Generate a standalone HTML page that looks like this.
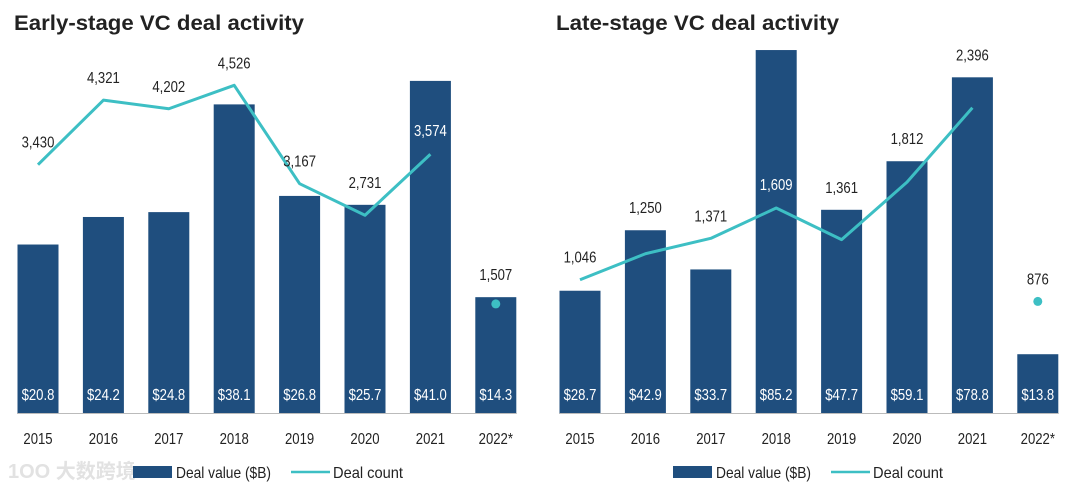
<!DOCTYPE html>
<html><head><meta charset="utf-8">
<style>
body{margin:0;background:#fff;width:1078px;height:493px;overflow:hidden;font-family:"Liberation Sans",sans-serif;}
svg{display:block}
</style></head>
<body>
<svg id="chart" width="1078" height="493" viewBox="0 0 1078 493">
<text x="14" y="30" font-size="21" font-weight="bold" fill="#222" textLength="290" lengthAdjust="spacingAndGlyphs">Early-stage VC deal activity</text>
<text x="556" y="30" font-size="21" font-weight="bold" fill="#222" textLength="283" lengthAdjust="spacingAndGlyphs">Late-stage VC deal activity</text>
<text x="8" y="478" font-size="20" font-weight="bold" fill="#e2e2e2" font-family="'Liberation Sans','Noto Sans CJK SC',sans-serif">1OO 大数跨境</text>
<g id="early"></g>
<g id="late"></g>
</svg>
<script>
const years = ["2015","2016","2017","2018","2019","2020","2021","2022*"];
const earlyValues = [20.8,24.2,24.8,38.1,26.8,25.7,41.0,14.3];
const earlyCounts = [3430,4321,4202,4526,3167,2731,3574,1507];
const lateValues = [28.7,42.9,33.7,85.2,47.7,59.1,78.8,13.8];
const lateCounts = [1046,1250,1371,1609,1361,1812,2396,876];

const NS="http://www.w3.org/2000/svg";
const BAR="#1f4e7e", LINE="#3dbfc4", BASE=413;
function mk(parent,tag,attrs){const e=document.createElementNS(NS,tag);for(const k in attrs)e.setAttribute(k,attrs[k]);parent.appendChild(e);return e;}
function fmt(n){return n.toLocaleString("en-US");}
function condense(t){const w=t.getComputedTextLength();t.setAttribute("textLength",(w*0.82).toFixed(1));t.setAttribute("lengthAdjust","spacingAndGlyphs");}

function draw(gid,x0,values,counts,valScale,cntScale,prefix){
  const g=document.getElementById(gid);
  const step=65.4,bw=41;
  const cx=i=>x0+i*step;
  const yV=v=>BASE-v*valScale;
  const yC=c=>BASE-c*cntScale;
  const base=mk(g,"line",{x1:x0-21,x2:cx(years.length-1)+21,y1:BASE+0.5,y2:BASE+0.5,stroke:"#bbb","stroke-width":1});
  
  
  values.forEach((v,i)=>{
    const r=mk(g,"rect",{x:cx(i)-bw/2,y:yV(v),width:bw,height:BASE-yV(v),fill:BAR});
    
    
    const t=mk(g,"text",{x:cx(i),y:400,"text-anchor":"middle","font-size":16,fill:"#fff"});
    t.textContent="$"+v.toFixed(1);
    condense(t);
    
    
    const yl=mk(g,"text",{x:cx(i),y:444,"text-anchor":"middle","font-size":16,fill:"#222"});
    yl.textContent=years[i];
    condense(yl);
    
    
  });
  const n=counts.length;
  const pts=counts.slice(0,n-1).map((c,i)=>cx(i)+","+yC(c)).join(" ");
  const pl=mk(g,"polyline",{points:pts,fill:"none",stroke:LINE,"stroke-width":3,"stroke-linejoin":"round"});
  
  
  const dot=mk(g,"circle",{cx:cx(n-1),cy:yC(counts[n-1]),r:4.5,fill:LINE});
  
  
  counts.forEach((c,i)=>{
    const py=yC(c),bt=yV(values[i]);
    let ly,col;
    if(bt<py-40){ly=py-18;col="#fff";}else{ly=Math.min(py,bt)-17;col="#222";}
    const t=mk(g,"text",{x:cx(i),y:ly,"text-anchor":"middle","font-size":16,fill:col});
    t.textContent=fmt(c);
    condense(t);
    
    
  });
}
draw("early",38,earlyValues,earlyCounts,8.1,0.0724,"early");
draw("late",580,lateValues,lateCounts,4.26,0.1274,"late");

function legend(x){
  const svg=document.getElementById("chart");
  const r=mk(svg,"rect",{x:x,y:466,width:39,height:12,fill:BAR});
  
  
  const t=mk(svg,"text",{x:x+43,y:478,"font-size":16,fill:"#222",textLength:95,lengthAdjust:"spacingAndGlyphs"});t.textContent="Deal value ($B)";
  
  
  const l=mk(svg,"line",{x1:x+158,x2:x+197,y1:472,y2:472,stroke:LINE,"stroke-width":2.5});
  
  
  const t2=mk(svg,"text",{x:x+200,y:478,"font-size":16,fill:"#222",textLength:70,lengthAdjust:"spacingAndGlyphs"});t2.textContent="Deal count";
  
  
}
legend(133);legend(673);
</script>
</body></html>
